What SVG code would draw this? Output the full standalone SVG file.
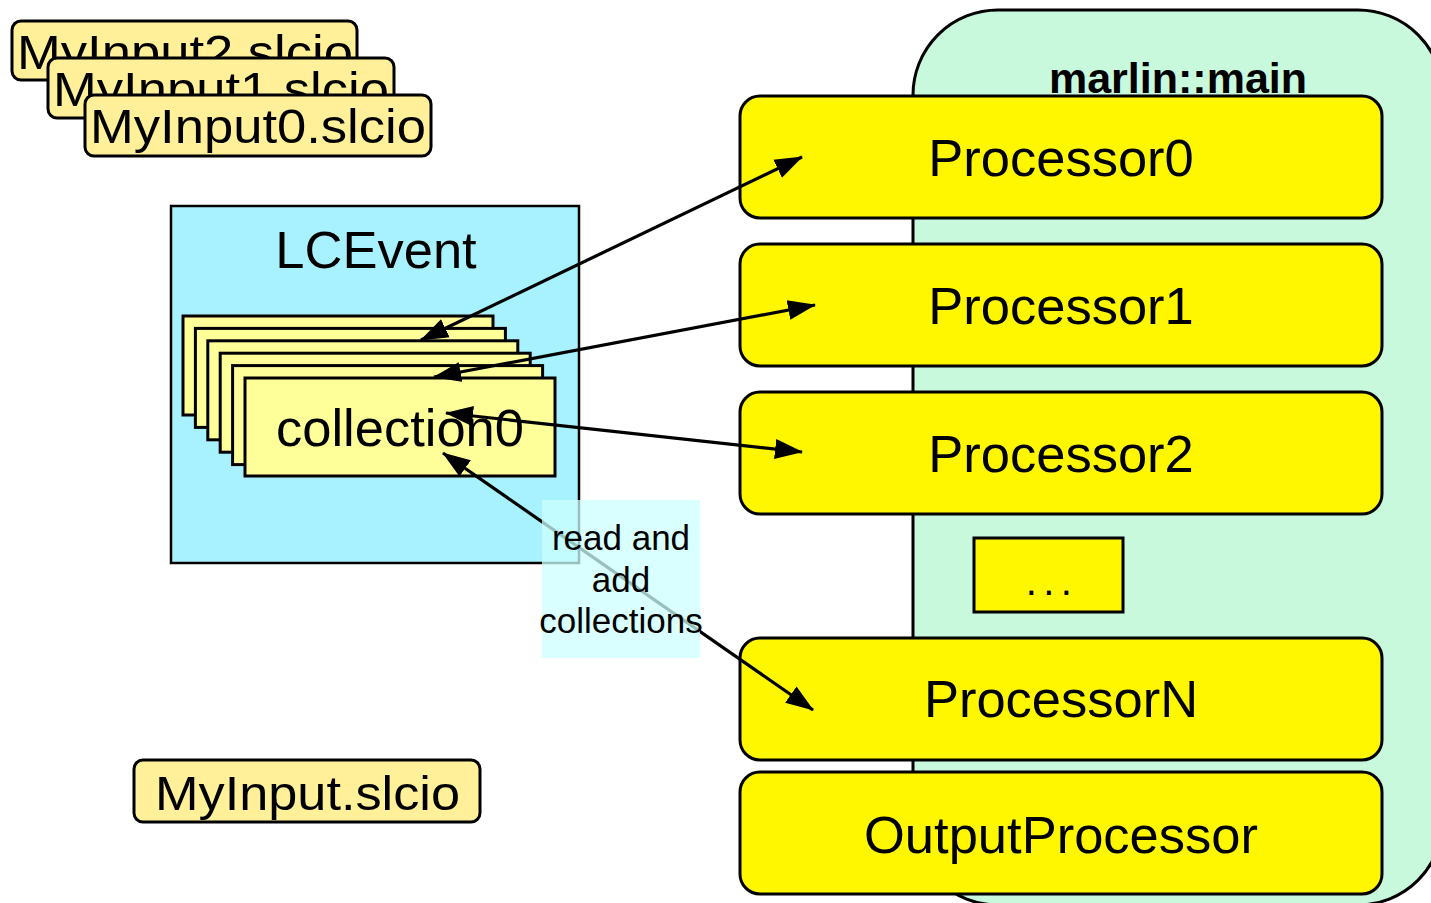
<svg xmlns="http://www.w3.org/2000/svg" width="1431" height="903" viewBox="0 0 1431 903">
<defs>
<style>
text{font-family:"Liberation Sans",Arial,sans-serif;fill:#000}
.file{fill:#fff099;stroke:#000;stroke-width:3}
.proc{fill:#fff700;stroke:#000;stroke-width:3}
.coll{fill:#ffff99;stroke:#000;stroke-width:3}
.big{font-size:52.5px;text-anchor:middle}
.ftxt{font-size:48px}
.conn{stroke:#000;stroke-width:3.2;fill:none;marker-start:url(#ah);marker-end:url(#ah)}
.lbl{font-size:35px;text-anchor:middle}
</style>
<marker id="ah" markerUnits="userSpaceOnUse" markerWidth="30" markerHeight="22" refX="27" refY="10" orient="auto-start-reverse" viewBox="0 0 30 20">
<path d="M0,0 L28,10 L0,20 z" fill="#000"/>
</marker>
</defs>
<rect width="1431" height="903" fill="#fff"/>

<g id="marlin-main">
<rect x="913" y="10" width="530" height="895" rx="85" ry="85" fill="#c8f9dc" stroke="#000" stroke-width="3"/>
<text x="1178" y="93" font-size="43" font-weight="bold" text-anchor="middle">marlin::main</text>
</g>

<g id="file2"><rect class="file" x="12" y="21" width="345" height="59" rx="9"/><text class="ftxt" x="17" y="69" textLength="336" lengthAdjust="spacingAndGlyphs">MyInput2.slcio</text></g>
<g id="file1"><rect class="file" x="48" y="58" width="346" height="60" rx="9"/><text class="ftxt" x="53" y="106" textLength="336" lengthAdjust="spacingAndGlyphs">MyInput1.slcio</text></g>
<g id="file0"><rect class="file" x="85" y="95" width="346" height="61" rx="9"/><text class="ftxt" x="90" y="143" textLength="336" lengthAdjust="spacingAndGlyphs">MyInput0.slcio</text></g>

<g id="lcevent">
<rect x="171" y="206" width="408" height="357" fill="#a8f2ff" stroke="#000" stroke-width="2.5"/>
<text class="big" x="376" y="268">LCEvent</text>
<rect class="coll" x="183" y="316" width="310" height="99"/>
<rect class="coll" x="195.4" y="328.4" width="310" height="99"/>
<rect class="coll" x="207.8" y="340.8" width="310" height="99"/>
<rect class="coll" x="220.2" y="353.2" width="310" height="99"/>
<rect class="coll" x="232.6" y="365.6" width="310" height="99"/>
<g id="collection0"><rect class="coll" x="245" y="378" width="310" height="98"/>
<text class="big" x="400" y="446">collection0</text></g>
</g>

<g id="processor0"><rect class="proc" x="740" y="96" width="642" height="122" rx="20"/><text class="big" x="1061" y="176">Processor0</text></g>
<g id="processor1"><rect class="proc" x="740" y="244" width="642" height="122" rx="20"/><text class="big" x="1061" y="324">Processor1</text></g>
<g id="processor2"><rect class="proc" x="740" y="392" width="642" height="122" rx="20"/><text class="big" x="1061" y="472">Processor2</text></g>
<g id="dots"><rect class="proc" x="974" y="538" width="149" height="74"/><text x="1052" y="595" font-size="40" text-anchor="middle" letter-spacing="6.4">...</text></g>
<g id="processorN"><rect class="proc" x="740" y="638" width="642" height="122" rx="20"/><text class="big" x="1061" y="717">ProcessorN</text></g>
<g id="outputProcessor"><rect class="proc" x="740" y="772" width="642" height="122" rx="20"/><text class="big" x="1061" y="853">OutputProcessor</text></g>

<g id="myinput"><rect class="file" x="134" y="760" width="346" height="62" rx="9"/><text class="ftxt" x="155" y="810" textLength="305" lengthAdjust="spacingAndGlyphs">MyInput.slcio</text></g>

<g id="connectors">
<line class="conn" x1="421" y1="340" x2="802" y2="157"/>
<line class="conn" x1="434" y1="377" x2="815" y2="305"/>
<line class="conn" x1="446" y1="413" x2="802" y2="452"/>
<line class="conn" x1="443" y1="453" x2="813" y2="710"/>
</g>

<g id="label">
<rect x="542" y="500" width="158" height="158" fill="#ccffff" fill-opacity="0.75"/>
<text class="lbl" x="621" y="550">read and</text>
<text class="lbl" x="621" y="592">add</text>
<text class="lbl" x="621" y="633">collections</text>
</g>
</svg>
